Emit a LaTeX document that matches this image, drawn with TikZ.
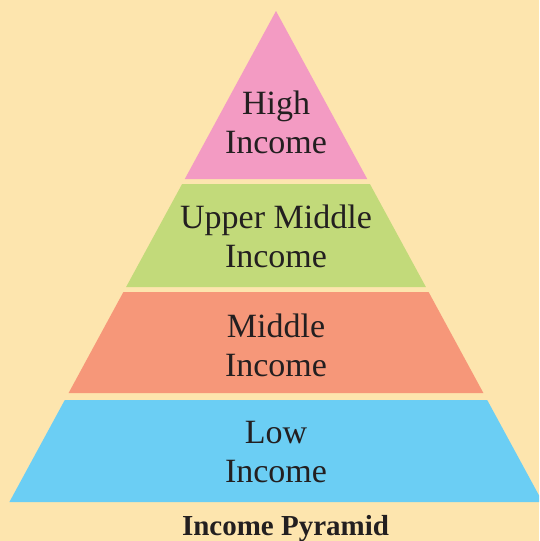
\documentclass[tikz,border=0pt]{standalone}
\usepackage{fontspec}
\setmainfont{Liberation Serif}
\definecolor{bgyellow}{RGB}{253,229,174}
\definecolor{highpink}{RGB}{243,155,195}
\definecolor{uppergreen}{RGB}{194,218,122}
\definecolor{midsalmon}{RGB}{246,151,121}
\definecolor{lowblue}{RGB}{107,206,244}
\definecolor{inkgray}{RGB}{35,31,32}
\begin{document}
\begin{tikzpicture}[x=1pt,y=-1pt,
  layertext/.style={align=center,text=inkgray,font=\fontsize{34}{39}\selectfont},
  captiontext/.style={anchor=base,text=inkgray,font=\fontsize{29}{34}\selectfont\bfseries}]
\useasboundingbox (0,0) rectangle (539,541);
\clip (0,0) rectangle (539,541);
\fill[bgyellow] (0,0) rectangle (539,541);
% the four layers of one triangle, apex at (276,11)
\fill[highpink] (276,11) -- (367.2,179) -- (184.8,179) -- cycle;
\fill[uppergreen] (182.1,184) -- (369.9,184) -- (425.9,287) -- (126.1,287) -- cycle;
\fill[midsalmon] (123.4,292) -- (428.6,292) -- (483.4,393) -- (68.6,393) -- cycle;
\fill[lowblue] (64.8,400) -- (487.2,400) -- (542.6,502) -- (9.4,502) -- cycle;
\node[layertext] (high) at (276,122) {High\\Income};
\node[layertext] (uppermid) at (276,236) {Upper Middle\\Income};
\node[layertext] (middle) at (276,345) {Middle\\Income};
\node[layertext] (low) at (276,452) {Low\\Income};
\node[captiontext] (caption) at (285.5,535) {Income Pyramid};
\end{tikzpicture}
\end{document}
